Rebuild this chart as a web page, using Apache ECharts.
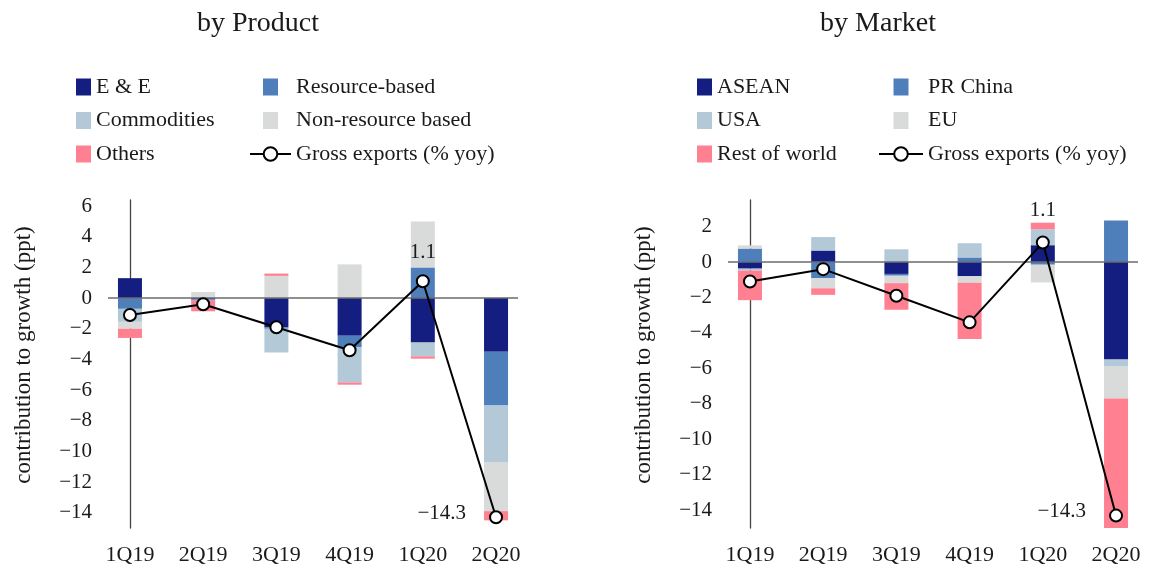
<!DOCTYPE html>
<html>
<head>
<meta charset="utf-8">
<title>Export growth contributions</title>
<script src="https://cdn.jsdelivr.net/npm/echarts@6/dist/echarts.min.js"></script>
<style>
  html, body { margin: 0; padding: 0; background: #ffffff; }
  #chart { width: 1161px; height: 566px; }
</style>
</head>
<body>
<div id="chart"></div>
<script>
// Quarters on the horizontal axis
const quarters = ['1Q19', '2Q19', '3Q19', '4Q19', '1Q20', '2Q20'];

// Gross exports, % yoy (same headline in both panels)
const grossExports = [-1.1, -0.4, -1.9, -3.4, 1.1, -14.3];

// Contributions to growth by product (ppt)
const productEE          = [1.3, -0.08, -1.9, -2.45, -2.9, -3.5];
const productResource    = [-0.7, -0.08, -0.1, -0.75, 2.0, -3.5];
const productCommodities = [-0.85, 0, -1.55, -2.3, -0.9, -3.7];
const productNonResource = [-0.45, 0.4, 1.45, 2.2, 3.0, -3.2];
const productOthers      = [-0.6, -0.7, 0.15, -0.15, -0.15, -0.6];

// Contributions to growth by market (ppt)
const marketASEAN   = [-0.37, 0.65, -0.67, -0.8, 0.95, -5.5];
const marketChina   = [0.76, -0.9, -0.1, 0.26, -0.15, 2.35];
const marketUSA     = [-0.11, 0.76, 0.72, 0.8, 0.9, -0.4];
const marketEU      = [0.18, -0.58, -0.42, -0.37, -1.0, -1.8];
const marketRest    = [-1.67, -0.37, -1.5, -3.17, 0.37, -8.9];

// Tick labels on the value axes
const productTicks = [-14, -12, -10, -8, -6, -4, -2, 0, 2, 4, 6];
const marketTicks  = [-14, -12, -10, -8, -6, -4, -2, 0, 2];
const quarterTicks = [0, 1, 2, 3, 4, 5];

const FONT = '"Liberation Serif", "DejaVu Serif", serif';
const INK = '#1a1a1a';
const COLORS = ['#141e80', '#4e7fba', '#b3c9d8', '#d9dada', '#ff8090'];
const LINE_NAME = 'Gross exports (% yoy)';
const SQUARE = 'path://M0,0h15v17h-15z';

const minus = v => String(v).replace('-', '\u2212');

// Each point is stored as [value, quarterIndex] so the value column is the
// one that gets stacked; encode maps the columns back onto x and y.
function panel(idx, names, values, topLabelGap) {
  const series = names.map((name, i) => ({
    type: 'bar',
    name: name,
    xAxisIndex: idx,
    yAxisIndex: idx,
    stack: 'contrib' + idx,
    stackStrategy: 'samesign',
    barWidth: 24,
    encode: { x: 1, y: 0 },
    itemStyle: { color: COLORS[i] },
    data: values[i].map((v, k) => [v, k]),
    markLine: i === 0 ? {
      silent: true,
      symbol: 'none',
      label: { show: false },
      lineStyle: { color: '#6b6b6b', width: 1.5, type: 'solid' },
      data: [{ yAxis: 0 }]
    } : undefined
  }));
  const lastIdx = grossExports.length - 1;
  const peakIdx = grossExports.indexOf(Math.max(...grossExports));
  series.push({
    type: 'line',
    name: LINE_NAME,
    xAxisIndex: idx,
    yAxisIndex: idx,
    z: 10,
    symbol: 'circle',
    symbolSize: 12,
    encode: { x: 1, y: 0 },
    lineStyle: { color: '#000', width: 2 },
    itemStyle: { color: '#fff', borderColor: '#000', borderWidth: 2 },
    data: grossExports.map((v, k) => {
      const item = { value: [v, k] };
      if (k === peakIdx) {
        item.label = { show: true, position: 'top', distance: topLabelGap,
          formatter: minus(v.toFixed(1)) };
      } else if (k === lastIdx) {
        item.label = { show: true, position: 'left', distance: 23, offset: [0, -4],
          formatter: minus(v.toFixed(1)) };
      }
      return item;
    }),
    label: { show: false, fontFamily: FONT, fontSize: 21, color: INK }
  });
  return series;
}

function legends(x1, x2, w2, col1, col2) {
  const base = {
    orient: 'vertical',
    top: 76,
    padding: 0,
    itemGap: 11.5,
    itemHeight: 17,
    selectedMode: false,
    textStyle: { fontFamily: FONT, fontSize: 22, color: INK }
  };
  return [
    Object.assign({}, base, { left: x1, itemWidth: 15, icon: 'rect', data: col1 }),
    Object.assign({}, base, {
      left: x2, itemWidth: w2,
      data: col2.map(n => n === LINE_NAME ? { name: n } : { name: n, icon: SQUARE })
    })
  ];
}

function xAxis(idx) {
  return {
    type: 'value',
    gridIndex: idx,
    min: -0.3,
    max: 5.3,
    axisLine: { show: false },
    axisTick: { show: false },
    splitLine: { show: false },
    axisLabel: {
      customValues: quarterTicks,
      formatter: v => quarters[Math.round(v)],
      fontFamily: FONT, fontSize: 22, color: INK, margin: 16
    }
  };
}

function yAxis(idx, yMax, ticks) {
  return {
    type: 'value',
    gridIndex: idx,
    min: -15,
    max: yMax,
    name: 'contribution to growth (ppt)',
    nameLocation: 'middle',
    nameGap: 73,
    nameTextStyle: { fontFamily: FONT, fontSize: 23, color: INK, padding: [0, 0, 0, 18] },
    axisLine: { show: true, lineStyle: { color: '#444', width: 1.3 } },
    axisTick: { show: false },
    splitLine: { show: false },
    axisLabel: {
      customValues: ticks,
      formatter: v => minus(v),
      fontFamily: FONT, fontSize: 21, color: INK, margin: 16
    }
  };
}

const productNames = ['E & E', 'Resource-based', 'Commodities', 'Non-resource based', 'Others'];
const marketNames  = ['ASEAN', 'PR China', 'USA', 'EU', 'Rest of world'];

const titleStyle = { fontFamily: FONT, fontSize: 28, fontWeight: 'normal', color: INK };

const option = {
  animation: false,
  backgroundColor: '#ffffff',
  title: [
    { text: 'by Product', left: 253, top: 5, textAlign: 'center', textStyle: titleStyle },
    { text: 'by Market', left: 873, top: 5, textAlign: 'center', textStyle: titleStyle }
  ],
  legend: [].concat(
    legends(76, 249, 41, ['E & E', 'Commodities', 'Others'],
      ['Resource-based', 'Non-resource based', LINE_NAME]),
    legends(697, 878, 44, ['ASEAN', 'USA', 'Rest of world'],
      ['PR China', 'EU', LINE_NAME])
  ),
  grid: [
    { left: 108, top: 200, width: 410, height: 333 },
    { left: 728, top: 200, width: 410, height: 333 }
  ],
  xAxis: [xAxis(0), xAxis(1)],
  yAxis: [yAxis(0, 6.4, productTicks), yAxis(1, 3.5, marketTicks)],
  series: [].concat(
    panel(0, productNames,
      [productEE, productResource, productCommodities, productNonResource, productOthers], 11),
    panel(1, marketNames,
      [marketASEAN, marketChina, marketUSA, marketEU, marketRest], 15)
  )
};

const chart = echarts.init(document.getElementById('chart'), null, { renderer: 'canvas' });
chart.setOption(option);
</script>
</body>
</html>
